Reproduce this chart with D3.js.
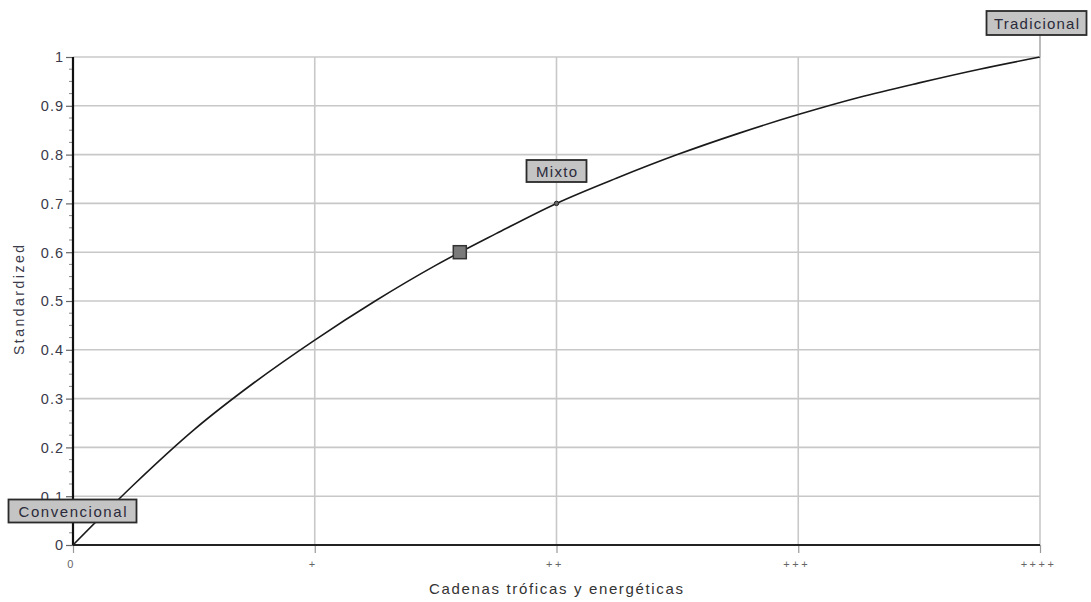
<!DOCTYPE html>
<html><head><meta charset="utf-8">
<script src="https://cdn.jsdelivr.net/npm/d3@7"></script>
<style>body{margin:0;background:#fff}svg{display:block}text{font-family:"Liberation Sans",Arial,sans-serif}</style>
</head><body><svg id="c" width="1091" height="602"></svg>
<script>
const xTickValues = [0, 1, 2, 3, 4];
const xTickLabels = ["0", "+", "++", "+++", "++++"];
const yTickValues = [0, 0.1, 0.2, 0.3, 0.4, 0.5, 0.6, 0.7, 0.8, 0.9, 1];
const curveX = [0, 0.25, 0.5, 0.75, 1, 1.25, 1.5, 1.75, 2, 2.25, 2.5, 2.75, 3, 3.25, 3.5, 3.75, 4];
const curveY = [0, 0.123, 0.236, 0.333, 0.42, 0.50, 0.573, 0.638, 0.70, 0.752, 0.80, 0.843, 0.882, 0.917, 0.947, 0.975, 1.0];
const labelNames = ["Convencional", "Mixto", "Tradicional"];
const labelX = [0, 2, 4];
const labelY = [0, 0.7, 1];
const markerX = [1.6];
const markerY = [0.6];

const svg = d3.select("#c");
const x = d3.scaleLinear().domain([0, 4]).range([73, 1040]);
const y = d3.scaleLinear().domain([0, 1]).range([545, 57]);

// grid
svg.append("g").selectAll("line").data(yTickValues.slice(1)).join("line")
  .attr("x1", x(0)).attr("x2", x(4)).attr("y1", d => y(d)).attr("y2", d => y(d))
  .attr("stroke", "#c8c8c8").attr("stroke-width", 1.6);
svg.append("g").selectAll("line").data(xTickValues.slice(1)).join("line")
  .attr("x1", d => x(d)).attr("x2", d => x(d)).attr("y1", y(0)).attr("y2", y(1))
  .attr("stroke", "#c8c8c8").attr("stroke-width", 1.6);

// y minor ticks
const minor = d3.range(0, 1.0001, 0.025).filter(v => Math.abs(v * 10 - Math.round(v * 10)) > 1e-6);
svg.append("g").selectAll("line").data(minor).join("line")
  .attr("x1", x(0) - 4).attr("x2", x(0)).attr("y1", d => y(d)).attr("y2", d => y(d))
  .attr("stroke", "#888").attr("stroke-width", 1);

// y axis
const yAxis = d3.axisLeft(y).tickValues(yTickValues).tickFormat(d => d3.format("~g")(d)).tickSize(7).tickPadding(2);
const gy = svg.append("g").attr("transform", `translate(${x(0)},0)`).call(yAxis);
gy.select(".domain").remove();
gy.selectAll(".tick line").attr("stroke", "#666").attr("stroke-width", 1.2);
gy.selectAll(".tick text").attr("font-size", 14.5).attr("fill", "#3a3a4a")
  .attr("letter-spacing", 1).attr("dy", "0.34em")
  .attr("font-family", '"Liberation Sans",Arial,sans-serif');

// x axis
const xAxis = d3.axisBottom(x).tickValues(xTickValues).tickFormat((d, i) => xTickLabels[i]).tickSize(8).tickPadding(7);
const gx = svg.append("g").attr("transform", `translate(0,${y(0)})`).call(xAxis);
gx.select(".domain").remove();
gx.selectAll(".tick line").attr("stroke", "#999").attr("stroke-width", 1.2);
gx.selectAll(".tick text").attr("font-size", 11).attr("fill", "#666").attr("letter-spacing", 2.5)
  .attr("dx", -2).attr("font-family", '"Liberation Sans",Arial,sans-serif');

// axis lines
svg.append("line").attr("x1", x(0)).attr("x2", x(0)).attr("y1", y(1)).attr("y2", y(0))
  .attr("stroke", "#111").attr("stroke-width", 2.2);
svg.append("line").attr("x1", x(0)).attr("x2", x(4)).attr("y1", y(0)).attr("y2", y(0))
  .attr("stroke", "#222").attr("stroke-width", 2);

// curve
const pts = curveX.map((v, i) => [v, curveY[i]]);
svg.append("path").datum(pts)
  .attr("d", d3.line().x(d => x(d[0])).y(d => y(d[1])).curve(d3.curveMonotoneX))
  .attr("fill", "none").attr("stroke", "#1a1a1a").attr("stroke-width", 1.6);

// Mixto point
svg.append("circle").attr("cx", x(labelX[1])).attr("cy", y(labelY[1])).attr("r", 2.2)
  .attr("fill", "#666").attr("stroke", "#222").attr("stroke-width", 1);

// square marker
svg.append("g").selectAll("rect").data(markerX).join("rect")
  .attr("x", (d) => x(d) - 6.5).attr("y", (d, i) => y(markerY[i]) - 6.5)
  .attr("width", 13).attr("height", 13)
  .attr("fill", "#7a7a7a").attr("stroke", "#333").attr("stroke-width", 1.5);

// labels
const boxes = [
  {cx: 72.5, cy: 511, w: 128, h: 23, tl: 108},
  {cx: 556.5, cy: 171, w: 60, h: 22, tl: 41},
  {cx: 1036.5, cy: 23, w: 100, h: 24, tl: 85}
];
svg.append("line").attr("x1", x(labelX[2])).attr("x2", x(labelX[2]))
  .attr("y1", boxes[2].cy + boxes[2].h / 2).attr("y2", y(labelY[2]))
  .attr("stroke", "#aaa").attr("stroke-width", 1.6);
labelNames.forEach((n, i) => {
  const b = boxes[i];
  const g = svg.append("g");
  g.append("rect").attr("x", b.cx - b.w / 2).attr("y", b.cy - b.h / 2).attr("width", b.w).attr("height", b.h)
    .attr("fill", "#c4c4c4").attr("stroke", "#2a2a2a").attr("stroke-width", 1.8);
  g.append("text").attr("x", b.cx - b.tl / 2).attr("y", b.cy + 5.5)
    .attr("textLength", b.tl).attr("lengthAdjust", "spacing")
    .attr("font-size", 15).attr("fill", "#2a2a3a").text(n);
});

// axis titles
svg.append("text").attr("x", 556 - 127).attr("y", 594)
  .attr("textLength", 254).attr("lengthAdjust", "spacing")
  .attr("font-size", 15).attr("fill", "#333").text("Cadenas tróficas y energéticas");
svg.append("text").attr("transform", "translate(24,355) rotate(-90)")
  .attr("textLength", 110).attr("lengthAdjust", "spacing")
  .attr("font-size", 14).attr("fill", "#3a3a4a").text("Standardized");
</script></body></html>
